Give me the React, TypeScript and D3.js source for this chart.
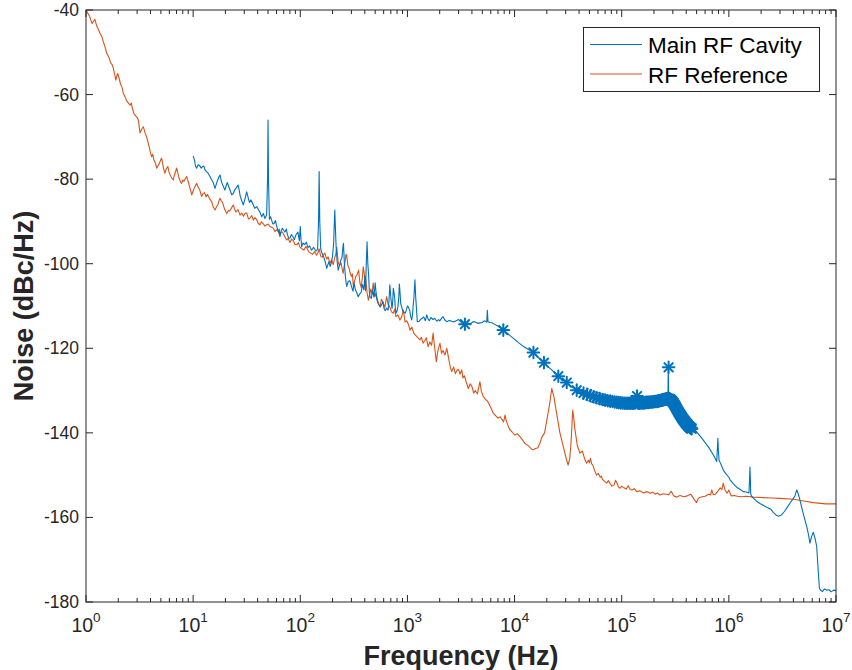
import React from "react";
import * as d3 from "d3";

const seriesNames = ["Main RF Cavity", "RF Reference"];
const yTickValues = [-180, -160, -140, -120, -100, -80, -60, -40];
const xTickExponents = [0, 1, 2, 3, 4, 5, 6, 7];

// [frequency Hz, noise dBc/Hz]
const rfReference: [number, number][] = [
  [1, -40], [1.04, -40.8], [1.08, -41.5], [1.11, -42.4], [1.14, -43.2], [1.18, -42.6], [1.21, -42.2],
  [1.26, -43.8], [1.3, -44.5], [1.35, -45.5], [1.4, -46.2], [1.45, -47.5], [1.5, -48.6],
  [1.56, -50.2], [1.63, -51.1], [1.7, -52.5], [1.75, -52.9], [1.8, -53.8], [1.86, -55.4], [1.9, -56.6],
  [1.94, -55.6], [1.98, -55], [2.04, -56.2], [2.1, -57.5], [2.17, -58.3], [2.23, -59.7], [2.32, -60.6],
  [2.4, -61.5], [2.5, -62.1], [2.58, -62.5], [2.65, -62], [2.72, -63.4], [2.8, -64.5], [2.92, -65.1],
  [3.0, -65.4], [3.08, -66], [3.13, -67.4], [3.19, -69.1], [3.3, -68.2], [3.43, -67.6],
  [3.55, -69], [3.68, -70], [3.8, -71.4], [3.9, -72.5], [4.0, -73.8], [4.1, -74.7], [4.2, -74.1],
  [4.3, -75.5], [4.45, -76.2], [4.57, -77.4], [4.7, -76.8], [4.8, -76.5], [4.95, -75.6],
  [5.08, -75], [5.2, -76.4], [5.3, -77.5], [5.46, -78.6], [5.6, -77.6], [5.8, -77], [5.95, -78.3],
  [6.1, -79], [6.3, -79.7], [6.53, -80.2], [6.65, -79.2], [6.8, -78.5],
  [7.0, -77.4], [7.2, -78.6], [7.4, -79.8], [7.6, -80.6], [7.8, -81], [8.0, -80.2], [8.2, -80.5],
  [8.45, -79.9], [8.7, -79.4], [9.0, -80.6], [9.2, -81.5], [9.45, -82.6], [9.7, -83.7], [10.0, -82.8],
  [10.3, -82], [10.8, -81], [11.1, -81.8], [11.5, -82.5], [12.0, -84.1], [12.4, -83.4], [12.8, -83.2],
  [13.2, -84.2], [13.6, -83.6], [14.2, -84.6], [14.9, -85.3], [15.4, -86.6],
  [16.0, -87.3], [16.5, -86.6], [17.0, -86], [17.8, -84.5], [18.3, -85.1], [18.8, -85.5], [19.7, -87.2],
  [20.6, -88.1], [21.3, -87.4], [22.0, -87.5], [22.8, -86.8], [23.7, -86.1], [24.3, -87],
  [25.0, -87.8], [26.2, -87.2], [27.4, -88.5], [28.4, -88], [29.5, -88.8], [30.5, -88.1], [31.6, -88],
  [32.8, -89.4], [34, -89.2], [35.2, -88.6], [36.5, -89.7], [37.8, -89.1], [39, -89.5], [40.5, -90.5],
  [42, -90.8], [43.5, -90.1], [45, -90.5], [46.7, -91.1], [48.6, -90.8], [50.2, -90.6], [52, -91.2],
  [54, -91.4], [56, -91.6], [58, -92.4], [60, -92], [62, -92.3], [64, -93.2], [66, -92.6], [68, -92.5],
  [71, -93.4], [74.6, -94.4], [77, -94], [80, -95], [83, -94.2], [86, -94.5], [89, -95.4], [93, -95.5],
  [96, -95], [99, -96], [103, -96.4], [108, -96.8], [113, -95.9], [120, -97.2], [125, -97.5], [130, -97.8],
  [136, -97.1], [142, -98], [146, -97.4], [150, -96.5], [155, -98.2], [160, -98.5], [165, -97.8], [170, -97.5],
  [176, -98.9], [182, -98.4], [189, -99.9], [196, -99.1], [203, -100.2], [210, -98.5], [215, -97.6], [219, -96],
  [225, -99.4], [232, -100.5], [240, -99.8], [251, -102.3], [256, -100.8], [262, -99.5], [267, -97.8], [271, -98],
  [278, -100.4], [285, -101], [292, -102.2], [300, -103], [306, -102.4], [313, -105.4],
  [321, -104.1], [330, -103], [340, -102.6], [350, -101.5], [360, -104.5], [370, -105.6], [380, -103.2],
  [387, -100.7], [398, -102.8], [410, -104], [420, -106.8], [432, -108.6], [443, -107.3], [455, -106],
  [467, -107.2], [479, -104.6], [495, -107.8], [510, -107], [530, -108.9], [555, -110.2], [572, -108.4],
  [590, -109], [615, -110.4], [640, -107.8], [660, -109.6], [680, -110], [710, -111.4], [738, -111.7],
  [760, -110.8], [780, -112.5], [815, -112.1], [850, -113.3], [880, -112.7], [917, -111], [950, -113.8],
  [985, -113.5], [1020, -114.3], [1057, -115.7], [1100, -115], [1150, -116.5], [1230, -117.3], [1309, -118],
  [1350, -117.4], [1400, -118.8], [1450, -118.2], [1500, -117.5], [1560, -119.6], [1620, -118.5],
  [1680, -119.3], [1738, -116.4], [1770, -118.5], [1800, -120], [1862, -123.2], [1900, -121.4],
  [1950, -120], [2014, -118.8], [2080, -121.2],
  [2150, -120.5], [2240, -121.6], [2330, -120], [2450, -123], [2520, -124.6], [2590, -125.5], [2700, -124.4],
  [2800, -126], [2900, -125.2], [3000, -125], [3100, -126.1], [3210, -125.1], [3300, -127],
  [3400, -126.5], [3550, -128.1], [3700, -129.5], [3850, -128.4], [4000, -129], [4150, -130.6],
  [4300, -130], [4500, -130.8], [4750, -127.9], [4900, -130.2], [5100, -131.4], [5350, -132.1], [5600, -132.5],
  [5950, -133.8], [6340, -135.4], [6650, -135.9], [7000, -136.5], [7350, -136.2], [7700, -137],
  [7900, -137.4], [8150, -135.8], [8350, -137.1], [8600, -138], [8800, -138.6], [9060, -139.3],
  [9500, -139.8], [10000, -140.5], [10600, -140.2],
  [11220, -140.9], [11800, -141.6], [12500, -142.5], [13200, -142.9], [14000, -143.5], [14500, -143.9],
  [14960, -144], [15700, -143.7], [16500, -143.5], [17260, -142.4],
  [18000, -141], [19050, -140], [20000, -137], [21300, -133], [22230, -129.5], [23300, -131.5],
  [24700, -135.4], [26500, -140], [29000, -144], [30500, -146.3], [31600, -147.6], [32700, -146.1],
  [33500, -143], [34200, -139], [34900, -134.6], [35700, -136.6],
  [36500, -139], [38500, -143], [40740, -144.8], [43000, -144.3], [45000, -146.1], [47100, -147.2],
  [48000, -146.8], [49000, -146.5], [50000, -147.1],
  [51000, -146], [52300, -147.3], [53500, -147.5], [56000, -149], [58300, -150], [60500, -149.6], [63000, -150.5],
  [64500, -150.2], [66000, -151], [69000, -151.4], [72400, -151.9], [75000, -151.3],
  [78000, -152], [81000, -152.6], [85000, -152.3], [87500, -151.2], [90000, -151.8], [93000, -152.7],
  [96400, -153.1], [100000, -152.6], [105000, -153], [110000, -153.3], [115000, -152.5], [120000, -153.4],
  [125000, -153.5], [131000, -153.2], [138000, -153.9], [148000, -153.7], [160000, -154.2], [172000, -153.9],
  [185000, -154.3], [195000, -154], [205000, -154.5], [215000, -154.2],
  [227500, -154.7], [243000, -154.4], [260000, -154.5], [275000, -154.6], [290000, -153.8], [305000, -154.9],
  [326000, -155.2], [350000, -154.8], [380000, -155.1], [410000, -154.9],
  [440000, -154.5], [460000, -155.2], [480000, -155.9], [500000, -156.5], [515000, -155.6], [530000, -155.3],
  [565000, -155.1], [600000, -155],
  [650000, -154.5], [675000, -154.7], [692000, -153.5], [715000, -154.6], [750000, -154.5], [790000, -153.8],
  [830000, -153], [860000, -153.4], [887000, -151.9],
  [920000, -153.5], [960000, -154.3], [1000000, -153.5], [1050000, -154.9], [1120000, -154.8], [1200000, -155],
  [1300000, -155.1], [1466000, -155], [1700000, -155.2], [2000000, -155.3], [2500000, -155.4],
  [3000000, -155.5], [4000000, -155.7], [5000000, -156.1], [6140000, -156.5], [8000000, -156.8],
  [10000000, -156.8],
];

const mainCavity: [number, number][] = [
  [10, -74.5], [10.3, -75.5], [10.5, -76.9], [10.8, -77.4], [11.1, -76.6], [11.5, -76.8], [11.9, -77.4],
  [12.3, -77], [12.6, -76.9], [12.9, -77.8], [13.3, -78.2], [13.8, -78.6], [14.3, -79.3],
  [14.8, -80], [15.4, -80.8], [16.0, -82.2], [16.4, -81.3], [16.8, -80.5], [17.3, -79.6], [17.8, -79],
  [18.2, -80.2], [18.6, -81], [19.2, -81.8], [19.8, -82.6], [20.3, -81.6], [20.8, -80.8], [21.8, -82.2],
  [22.9, -83.7], [23.7, -83.4], [24.5, -82.5], [25.4, -82], [26.3, -81.4], [26.9, -82.6], [27.5, -84],
  [28.4, -85.1], [29.4, -86.1], [30.5, -84.6], [31.6, -83], [32.5, -84.2], [33.5, -85.5], [34.7, -84.9],
  [36, -85.8], [37.6, -86.9], [39.2, -86.5], [40.6, -87.2], [42, -87.8], [43.7, -88.9], [45.2, -88.1],
  [46.8, -89.3], [48.5, -88.5], [49.5, -80],
  [50, -66], [50.5, -80], [51.5, -89.5], [52.8, -88.9], [54, -89.7], [55.5, -90.6], [57, -90.5], [58.7, -89.8],
  [60.3, -91.2], [61.5, -91.9], [62.5, -92.5], [63.5, -91.8],
  [64.6, -93.6], [66, -92.4], [68, -91.6], [70, -92.1], [72, -92.5], [74, -91.8], [76, -93.2], [78, -93.9],
  [80, -94], [82.5, -93.1], [85, -93.5], [88, -94.3], [91, -93.2], [95, -92.5], [98, -94.6], [100, -91.2],
  [101.5, -94.2], [103, -96],
  [106, -95.1], [110, -95.5], [114, -94.9], [118, -96.2], [122, -95.8], [127.7, -96.8], [133, -96.1],
  [140, -97], [145, -96.6], [148, -90], [150, -78.2], [152, -90], [155, -96.4], [158, -97.2],
  [162, -97.9], [166, -98.5], [171, -99.6], [176.6, -101.1], [180, -100.4], [185, -99.5], [190, -100.6],
  [195, -99.8], [200, -98.2], [205, -95], [208, -90], [210, -87.3], [213, -92], [216, -96],
  [221, -99.6], [226, -101.5], [233, -100.2], [240, -99], [245, -98.6], [250, -96], [253, -95.2], [258, -100],
  [264, -103.2], [271, -105.4], [280, -104.2], [290, -104], [300, -105.3], [310, -106.5], [318, -104.6],
  [326, -106.1], [336, -106.8], [347, -107.8], [358, -107.2], [370, -106.8], [380, -104.9], [392, -106.2],
  [400, -103], [406, -106.4], [413, -100], [420, -94.8], [427, -100], [435, -103], [441, -106.5], [447, -107.8],
  [460, -108.2], [473, -106.3], [487, -107.9], [500, -104.5], [515, -108.2], [530, -109.3],
  [555, -110.2], [572, -109.8], [590, -109], [605, -110.6], [620, -111.1], [640, -110.5], [660, -111],
  [672, -109], [685, -105], [700, -108], [718, -110.6], [730, -108.8], [738, -105.8], [750, -106.8], [760, -108],
  [771, -110.4], [782, -111.7], [800, -111.2], [816, -110.1], [830, -108], [841, -104.8], [850, -106.2],
  [865, -109.4], [880, -110], [905, -111.2], [930, -111.5], [955, -111.7], [980, -110.8], [1000, -110],
  [1019, -110.2], [1050, -111], [1070, -112.4],
  [1096, -113.3], [1115, -112.1], [1130, -110], [1150, -108], [1175, -103.8], [1195, -108], [1210, -110],
  [1236, -113.7], [1290, -113.6], [1350, -113], [1420, -112.6], [1470, -113.5], [1514, -112.1],
  [1560, -113.1], [1600, -113.5], [1660, -112.7], [1730, -113.2], [1800, -112.9], [1880, -113.6],
  [1950, -113.2], [2000, -113.5], [2070, -113], [2150, -112.5], [2230, -113.3], [2330, -113.7],
  [2450, -113.4], [2580, -113.6], [2700, -113.8], [2850, -113.5],
  [3000, -113.2], [3200, -113.9], [3440, -114.3], [3650, -114], [3900, -114.2], [4100, -113.7], [4300, -113.8],
  [4520, -114.1], [4750, -114], [5000, -113.9], [5200, -113.5], [5350, -113.6],
  [5500, -113.8], [5570, -111], [5650, -113.7], [5900, -113.9], [6200, -114], [6600, -114.4], [7000, -114.8],
  [7400, -115.2], [7850, -115.7], [8600, -116.5],
  [9700, -117.6], [10800, -118.6], [12000, -119.5], [13500, -120.3], [15000, -121], [16800, -122.3],
  [18800, -123.4], [20300, -124.3], [22000, -125], [23800, -125.9], [25600, -126.6], [28000, -127.4],
  [30700, -128.1], [34000, -129.1], [38000, -129.9], [44000, -130.6], [51000, -131.2], [58000, -131.7],
  [66000, -132.1],
  [82000, -132.6], [100000, -132.9], [130000, -133], [160000, -132.9], [200000, -132.6], [250000, -132.1],
  [270000, -131.9], [272000, -124.5], [275000, -131.9], [300000, -132.6], [340000, -135.2],
  [400000, -137.8], [466000, -138.8], [550000, -141], [650000, -143.5], [720000, -145.3], [770000, -146.8],
  [782000, -143.5], [790000, -141.3], [800000, -144.5], [810000, -146.5], [840000, -147.3], [887000, -148.8],
  [940000, -149.7], [1000000, -150.5], [1026000, -151.1], [1100000, -152],
  [1200000, -153], [1280000, -153.4], [1365000, -153.9], [1450000, -154], [1540000, -154.2], [1560000, -151],
  [1574000, -148.1], [1590000, -151.5], [1600000, -154.5],
  [1640000, -155.1], [1800000, -156.1], [1950000, -156.7], [2150000, -157.3], [2333000, -157.8],
  [2450000, -158], [2600000, -158.8], [2750000, -159.4], [2900000, -159.7], [3100000, -159.4],
  [3300000, -158.6], [3467000, -157.8], [3700000, -156.7], [4000000, -155.5], [4150000, -154.8],
  [4300000, -153.5], [4450000, -154.5], [4610000, -155.9], [4900000, -158.7], [5330000, -162.2],
  [5550000, -164.2], [5710000, -166.1], [5900000, -164.6], [6140000, -163.5], [6350000, -164.8],
  [6600000, -166.8], [6800000, -172], [7000000, -176.8], [7250000, -177.3], [7500000, -177.5],
  [7800000, -176.9], [8200000, -177.2], [8600000, -177.1], [9000000, -177.6], [9500000, -177.2],
  [10000000, -177.3],
];

// asterisk markers on the Main RF Cavity trace [Hz, dBc/Hz]
const cavityMarkers: [number, number][] = [
  [3440, -114.3], [7850, -115.7], [15000, -121], [18800, -123.4], [25600, -126.6], [30700, -128.1],
  [38000, -129.9], [44000, -130.6], [47500, -130.9], [51000, -131.2], [54500, -131.45], [58000, -131.7],
  [62000, -131.9], [66000, -132.1], [70000, -132.25], [74000, -132.4], [78000, -132.5],
  [82000, -132.6], [86000, -132.7], [90000, -132.8], [94000, -132.85], [98000, -132.9], [102000, -132.95],
  [106000, -133], [110000, -133], [114000, -133], [118000, -133], [122000, -133], [126000, -133],
  [130000, -133], [134000, -132.9], [139000, -131.3], [142000, -133], [146000, -133], [150000, -132.95],
  [154000, -132.9], [158000, -132.9], [162000, -132.9], [166000, -132.85], [170000, -132.8],
  [174000, -132.8], [178000, -132.8], [182000, -132.75], [186000, -132.7], [190000, -132.7],
  [194000, -132.7], [198000, -132.65], [202000, -132.6], [206000, -132.6], [210000, -132.6],
  [214000, -132.55], [218000, -132.5], [222000, -132.45], [226000, -132.4], [230000, -132.35],
  [234000, -132.3], [238000, -132.25], [242000, -132.2], [246000, -132.15], [250000, -132.1],
  [254000, -132.05], [258000, -132], [262000, -131.95], [266000, -131.9], [270000, -131.9],
  [274000, -124.5], [278000, -131.95], [282000, -132], [286000, -132.15], [290000, -132.3],
  [294000, -132.45], [298000, -132.6], [302000, -132.8], [306000, -133], [310000, -133.25],
  [314000, -133.5], [318000, -133.75], [322000, -134], [326000, -134.25], [330000, -134.5],
  [334000, -134.75], [338000, -135], [342000, -135.2], [346000, -135.4], [350000, -135.6],
  [354000, -135.8], [358000, -136], [362000, -136.2], [366000, -136.4], [370000, -136.6],
  [374000, -136.75], [378000, -136.9], [382000, -137.05], [386000, -137.2], [390000, -137.35],
  [394000, -137.5], [398000, -137.65], [402000, -137.8], [406000, -137.9], [410000, -138],
  [414000, -138.15], [418000, -138.3], [422000, -138.4], [426000, -138.5], [430000, -138.6],
  [434000, -138.7], [438000, -138.8], [442000, -138.9], [446000, -138.95], [450000, -139],
];

const BLUE = "#0072BD";
const ORANGE = "#D95319";
const AX = "#262626";
const FONT = "'Liberation Sans', Arial, Helvetica, sans-serif";

export default function App() {
  const left = 86, right = 836, top = 10, bottom = 602;
  const x = d3.scaleLog().domain([1, 1e7]).range([left, right]);
  const y = d3.scaleLinear().domain([-180, -40]).range([bottom, top]);
  const line = d3.line<[number, number]>().x((d) => x(d[0])).y((d) => y(d[1]));

  const allTicks = x.ticks();
  const minor = allTicks.filter((t) => Math.abs(Math.log10(t) - Math.round(Math.log10(t))) > 1e-6);

  const star = (cx: number, cy: number, i: number) => {
    const r = 5.8, d = 4.2;
    return (
      <g key={i} stroke={BLUE} strokeWidth={2} strokeLinecap="round">
        <line x1={cx - r} y1={cy} x2={cx + r} y2={cy} />
        <line x1={cx} y1={cy - r} x2={cx} y2={cy + r} />
        <line x1={cx - d} y1={cy - d} x2={cx + d} y2={cy + d} />
        <line x1={cx - d} y1={cy + d} x2={cx + d} y2={cy - d} />
      </g>
    );
  };

  return (
    <svg width={852} height={670} style={{ position: "absolute", left: 0, top: 0, background: "#fff" }} fontFamily={FONT}>
      <defs>
        <clipPath id="plotclip">
          <rect x={left} y={top} width={right - left} height={bottom - top} />
        </clipPath>
      </defs>
      <rect x={0} y={0} width={852} height={670} fill="#fff" />
      <g clipPath="url(#plotclip)">
        <path d={line(rfReference) || ""} fill="none" stroke={ORANGE} strokeWidth={1.1} strokeLinejoin="round" />
        <path d={line(mainCavity) || ""} fill="none" stroke={BLUE} strokeWidth={1.1} strokeLinejoin="round" />
        {cavityMarkers.map((m, i) => star(x(m[0]), y(m[1]), i))}
      </g>
      {/* axes box */}
      <rect x={left} y={top} width={right - left} height={bottom - top} fill="none" stroke={AX} strokeWidth={1} />
      {/* x ticks */}
      {xTickExponents.map((e) => {
        const px = x(Math.pow(10, e));
        return (
          <g key={"xm" + e} stroke={AX}>
            <line x1={px} x2={px} y1={bottom} y2={bottom - 7} />
            <line x1={px} x2={px} y1={top} y2={top + 7} />
          </g>
        );
      })}
      {minor.map((t, i) => (
        <g key={"xn" + i} stroke={AX}>
          <line x1={x(t)} x2={x(t)} y1={bottom} y2={bottom - 4} />
          <line x1={x(t)} x2={x(t)} y1={top} y2={top + 4} />
        </g>
      ))}
      {xTickExponents.map((e) => {
        const px = x(Math.pow(10, e));
        return (
          <text key={"xl" + e} x={px} y={632} textAnchor="middle" fill={AX} fontSize={19.5}>
            10<tspan dy={-10} fontSize={13.5}>{e}</tspan>
          </text>
        );
      })}
      {/* y ticks */}
      {yTickValues.map((v) => (
        <g key={"y" + v}>
          <line x1={left} x2={left + 7} y1={y(v)} y2={y(v)} stroke={AX} />
          <line x1={right} x2={right - 7} y1={y(v)} y2={y(v)} stroke={AX} />
          <text x={79} y={y(v) + 6} textAnchor="end" fill={AX} fontSize={17.5}>{v}</text>
        </g>
      ))}
      {/* axis labels */}
      <text x={(left + right) / 2} y={665} textAnchor="middle" fontWeight="bold" fontSize={27} fill={AX}>
        Frequency (Hz)
      </text>
      <text transform={`translate(33,${(top + bottom) / 2}) rotate(-90)`} textAnchor="middle" fontWeight="bold" fontSize={27} fill={AX}>
        Noise (dBc/Hz)
      </text>
      {/* legend */}
      <rect x={583.5} y={27.5} width={236} height={64} fill="#fff" stroke={AX} strokeWidth={1} />
      <line x1={590} x2={642} y1={44.5} y2={44.5} stroke={BLUE} strokeWidth={1} />
      <line x1={590} x2={642} y1={74} y2={74} stroke={ORANGE} strokeWidth={1} />
      <text x={648} y={53} fontSize={22.5} fill="#000">{seriesNames[0]}</text>
      <text x={648} y={82.5} fontSize={22.5} fill="#000">{seriesNames[1]}</text>
    </svg>
  );
}
